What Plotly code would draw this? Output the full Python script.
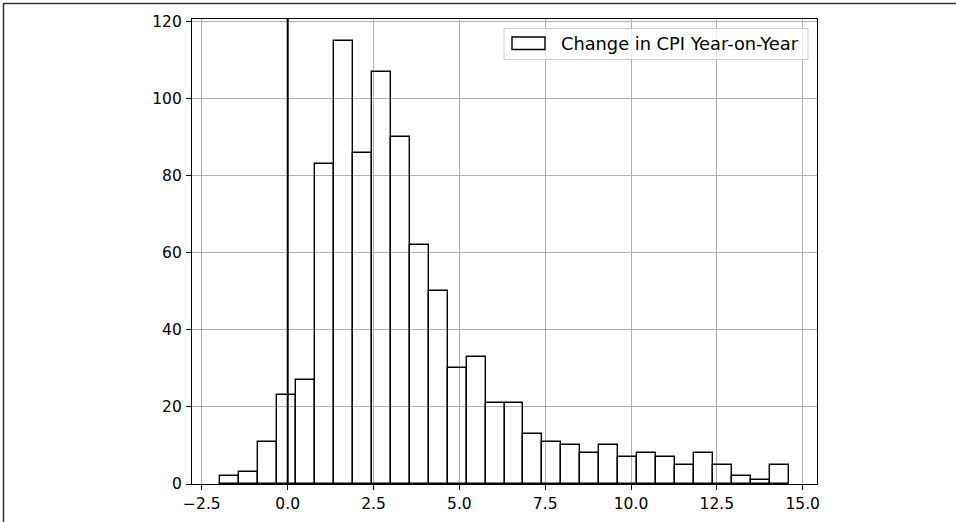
import plotly.graph_objects as go

# Histogram of year-on-year CPI change (30 equal-width bins)
bin_start = -1.96
bin_end = 14.59
counts = [2, 3, 11, 23, 27, 83, 115, 86, 107, 90, 62, 50, 30, 33, 21,
          21, 13, 11, 10, 8, 10, 7, 8, 7, 5, 8, 5, 2, 1, 5]
x_ticks = [-2.5, 0.0, 2.5, 5.0, 7.5, 10.0, 12.5, 15.0]
x_tick_labels = ["−2.5", "0.0", "2.5", "5.0", "7.5", "10.0", "12.5", "15.0"]
y_ticks = [0, 20, 40, 60, 80, 100, 120]
series_name = "Change in CPI Year-on-Year"

n_bins = len(counts)
bin_width = (bin_end - bin_start) / n_bins
centers = [bin_start + bin_width * (i + 0.5) for i in range(n_bins)]

W, H = 956, 522
L, R, T, B = 192, 139, 19, 38
pw, ph = W - L - R, H - T - B


def px_x(px):
    return (px - L) / pw


def px_y(py):
    return (H - B - py) / ph


font = dict(family="DejaVu Sans", size=15.5, color="black")

fig = go.Figure()
fig.add_trace(go.Bar(
    x=centers, y=counts, width=bin_width,
    marker=dict(color="rgba(0,0,0,0)", line=dict(color="black", width=1.4)),
    name=series_name, showlegend=False, hoverinfo="x+y",
))

span = bin_end - bin_start
x_range = [bin_start - 0.05 * span, bin_end + 0.05 * span]
y_range = [0, max(counts) * 1.05]

axis_common = dict(
    showgrid=True, gridcolor="#b0b0b0", gridwidth=1,
    showline=True, linecolor="black", linewidth=1.2, mirror=True,
    ticks="outside", ticklen=5, tickcolor="black", tickwidth=1,
    zeroline=False, tickfont=font, automargin=False,
)

shapes = [
    # vertical reference line at zero
    dict(type="line", xref="x", yref="y domain", x0=0, x1=0, y0=0, y1=1,
         line=dict(color="black", width=2), layer="above"),
    # outer frame (top and left edges)
    dict(type="line", xref="paper", yref="paper", x0=px_x(3), x1=px_x(W + 5),
         y0=px_y(3.5), y1=px_y(3.5), line=dict(color="#333333", width=1.5)),
    dict(type="line", xref="paper", yref="paper", x0=px_x(3.5), x1=px_x(3.5),
         y0=px_y(3), y1=px_y(H + 5), line=dict(color="#333333", width=1.5)),
    # legend box and patch
    dict(type="rect", xref="paper", yref="paper", x0=px_x(504), x1=px_x(808),
         y0=px_y(59.5), y1=px_y(28.5), fillcolor="rgba(255,255,255,0.8)",
         line=dict(color="#cccccc", width=1), layer="above"),
    dict(type="rect", xref="paper", yref="paper", x0=px_x(512), x1=px_x(545),
         y0=px_y(49.5), y1=px_y(37), fillcolor="rgba(0,0,0,0)",
         line=dict(color="black", width=1.4), layer="above"),
]

annotations = [
    dict(xref="paper", yref="paper", x=px_x(559), y=px_y(43.5),
         xanchor="left", yanchor="middle", text=series_name, showarrow=False,
         font=dict(family="DejaVu Sans", size=17.8, color="black")),
]

fig.update_layout(
    width=W, height=H,
    margin=dict(l=L, r=R, t=T, b=B, autoexpand=False),
    paper_bgcolor="white", plot_bgcolor="white",
    xaxis=dict(range=x_range, tickvals=x_ticks, ticktext=x_tick_labels,
               **axis_common),
    yaxis=dict(range=y_range, tickvals=y_ticks, ticklabelstandoff=1,
               **axis_common),
    shapes=shapes, annotations=annotations,
    bargap=0, showlegend=False,
)

fig.write_html("out.html")
